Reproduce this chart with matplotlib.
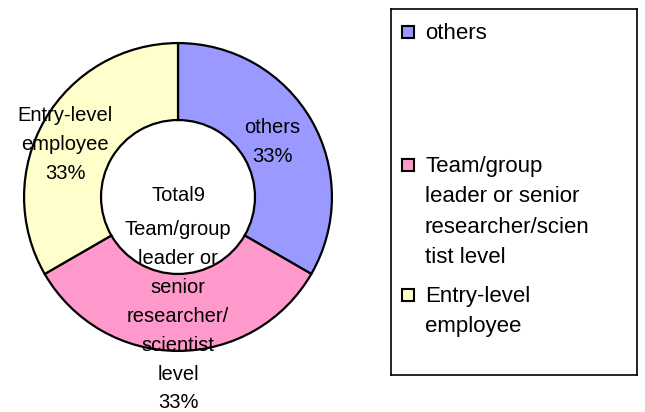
import numpy as np
import matplotlib
matplotlib.use('Agg')
import matplotlib.pyplot as plt
from matplotlib.patches import Rectangle

plt.rcParams['font.family'] = ['Liberation Sans', 'DejaVu Sans']

categories = ['others',
              'Team/group leader or senior researcher/scientist level',
              'Entry-level employee']
counts = [3, 3, 3]
pie_labels = ['others',
              'Team/group\nleader or\nsenior\nresearcher/\nscientist\nlevel',
              'Entry-level\nemployee']
legend_labels = ['others',
                 'Team/group\nleader or senior\nresearcher/scien\ntist level',
                 'Entry-level\nemployee']
colors = ['#9999FF', '#FF99CC', '#FFFFCC']

total = sum(counts)

fig = plt.figure(figsize=(6.45, 4.12), dpi=100)

# donut
ax = fig.add_axes([21 / 645, 58 / 412, 314 / 645, 314 / 412])
wedges, _ = ax.pie(counts, colors=colors, startangle=90, counterclock=False,
                   radius=1, wedgeprops=dict(width=0.5, edgecolor='black', linewidth=1.6))
ax.set_xlim(-1.02, 1.02)
ax.set_ylim(-1.02, 1.02)
ax.set_aspect('equal')
ax.axis('off')

# label radius and small angle nudge per slice
label_r = [0.71, 0.775, 0.81]
label_da = [0, 0, 5]
for w, lab, n, r, da in zip(wedges, pie_labels, counts, label_r, label_da):
    mid = np.deg2rad((w.theta1 + w.theta2) / 2 + da)
    pct = '%d%%' % round(100 * n / total)
    ax.text(r * np.cos(mid), r * np.sin(mid), lab + '\n' + pct,
            ha='center', va='center', fontsize=14.5, linespacing=1.66, clip_on=False)

ax.text(0, 0.01, 'Total%d' % total, ha='center', va='center', fontsize=14.5)

# legend box
lax = fig.add_axes([391 / 645, 37 / 412, 246 / 645, 366 / 412])
lax.set_xlim(0, 246)
lax.set_ylim(366, 0)
lax.set_xticks([])
lax.set_yticks([])
for s in lax.spines.values():
    s.set_linewidth(1.2)
    s.set_color('black')

entry_y = [23, 156, 286]
for y, lab, c in zip(entry_y, legend_labels, colors):
    lax.add_patch(Rectangle((11, y - 6), 12, 12, facecolor=c, edgecolor='black', linewidth=1.5))
    lax.text(34, y - 9, lab, ha='left', va='top', fontsize=16, linespacing=1.58)

fig.savefig('out.png', dpi=100)
